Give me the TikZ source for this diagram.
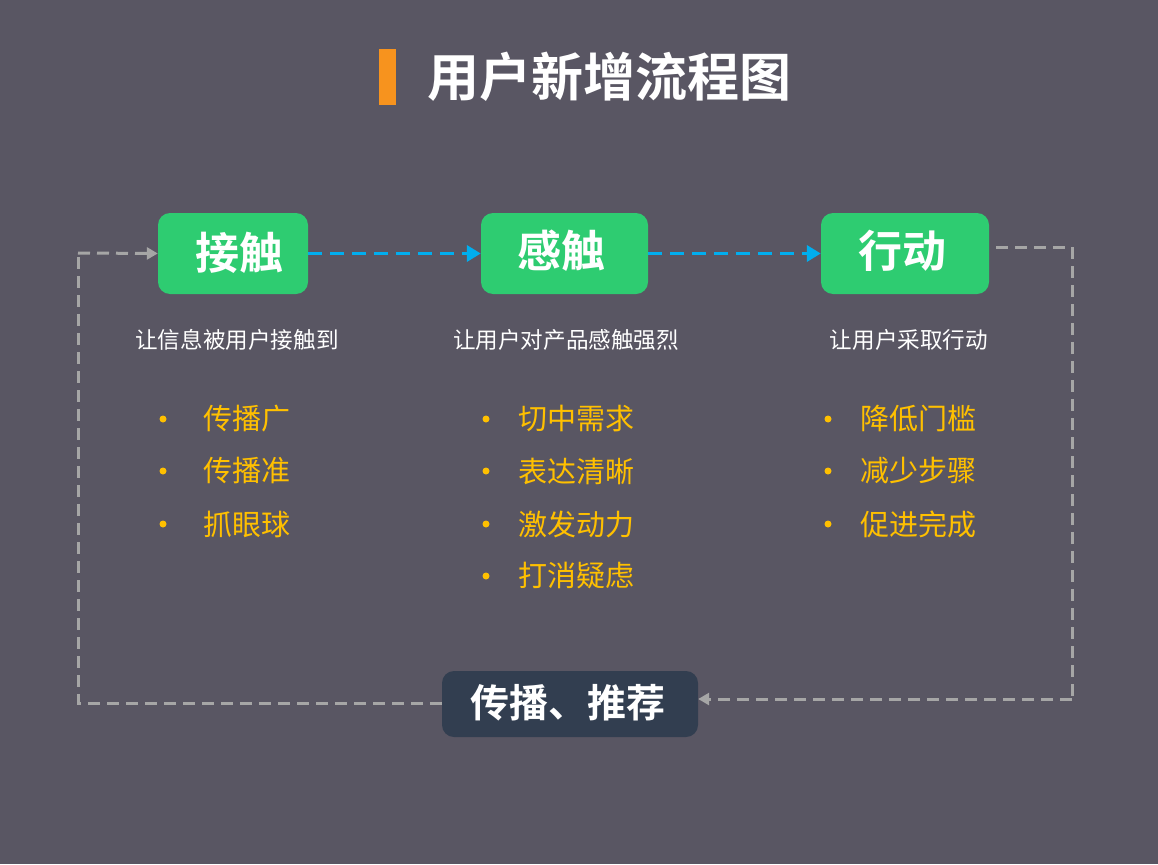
\documentclass[tikz,border=0pt]{standalone}
\usepackage{fontspec}
\newfontfamily\cjk{Noto Sans CJK SC}
\newfontfamily\cjkb{Noto Sans CJK SC Bold}
\usetikzlibrary{arrows.meta}
\definecolor{bg}{HTML}{595663}
\definecolor{grn}{HTML}{2ECC71}
\definecolor{blu}{HTML}{00AEEF}
\definecolor{gry}{HTML}{A6A6A6}
\definecolor{drk}{HTML}{323E50}
\definecolor{org}{HTML}{F7931E}
\definecolor{ylw}{HTML}{FFC000}
\tikzset{
  stagebox/.style={fill=grn, rounded corners=12pt, minimum height=81pt, inner sep=0pt},
  stagetext/.style={text=white, font=\cjkb\fontsize{44}{48}\selectfont, inner sep=0pt},
  sharebox/.style={fill=drk, rounded corners=12pt, minimum width=256pt, minimum height=66pt, inner sep=0pt},
  sharetext/.style={text=white, font=\cjkb\fontsize{39}{42}\selectfont, inner sep=0pt},
  subtitle/.style={text=white, font=\cjk\fontsize{22.6}{26}\selectfont},
  item/.style={text=ylw, anchor=west, font=\cjk\fontsize{29}{33}\selectfont, inner sep=0pt},
  dot/.style={circle, fill=ylw, inner sep=0pt, minimum size=7pt},
  bluearrow/.style={draw=blu, line width=3.5pt, dash pattern=on 14pt off 8pt, -{Triangle[length=14pt,width=16pt]}},
  grayarrow/.style={draw=gry, line width=3pt, dash pattern=on 12pt off 7pt, -{Triangle[length=11pt,width=12pt]}},
  grayline/.style={draw=gry, line width=3pt, dash pattern=on 12pt off 7pt}
}
\begin{document}
\begin{tikzpicture}[x=1pt,y=-1pt]
\fill[bg] (0,0) rectangle (1158,864);
\useasboundingbox (0,0) rectangle (1158,864);
% title
\fill[org] (379,49) rectangle (396,105);
\node[text=white, font=\cjkb\fontsize{52}{56}\selectfont, anchor=west, inner sep=0pt] (title) at (427,77) {用户新增流程图};
% stage boxes
\node[stagebox, minimum width=150pt] (s1) at (233,253.5) {};
\node[stagebox, minimum width=167pt] (s2) at (564.5,253.5) {};
\node[stagebox, minimum width=168pt] (s3) at (905,253.5) {};
\node[stagetext] (l1) at (239,253) {接触};
\node[stagetext] (l2) at (561,251) {感触};
\node[stagetext] (l3) at (902,251) {行动};
\node[sharebox] (sh) at (570,704) {};
\node[sharetext] (shl) at (568,703) {传播、推荐};
% arrows
\draw[bluearrow] (s1.east) -- (s2.west);
\draw[bluearrow] (s2.east) -- (s3.west);
\coordinate (a0) at (996,247);
\coordinate (a1) at (1072,247);
\coordinate (a2) at (1072,699);
\coordinate (a3) at (sh.east |- a2);
\draw[grayline] (a0) -- (a1) -- (a2);
\draw[grayarrow] (a2) -- (a3);
\coordinate (b0) at (sh.west |- 0,703);
\coordinate (b1) at (78,703);
\coordinate (b2) at (78,253);
\draw[grayline] (b0) -- (b1) -- (b2);
\draw[grayarrow] (b2) -- (s1.west);
% subtitles
\node[subtitle] (t1) at (237,340) {让信息被用户接触到};
\node[subtitle] (t2) at (566,340) {让用户对产品感触强烈};
\node[subtitle] (t3) at (909,340) {让用户采取行动};
% column 1
\node[dot] (d11) at (163,419) {}; \node[item] (i11) at (203,419) {传播广};
\node[dot] (d12) at (163,471) {}; \node[item] (i12) at (203,471) {传播准};
\node[dot] (d13) at (163,524) {}; \node[item] (i13) at (203,524) {抓眼球};
% column 2
\node[dot] (d21) at (486,419) {}; \node[item] (i21) at (518,419) {切中需求};
\node[dot] (d22) at (486,471) {}; \node[item] (i22) at (518,471) {表达清晰};
\node[dot] (d23) at (486,524) {}; \node[item] (i23) at (518,524) {激发动力};
\node[dot] (d24) at (486,576) {}; \node[item] (i24) at (518,576) {打消疑虑};
% column 3
\node[dot] (d31) at (828,419) {}; \node[item] (i31) at (860,419) {降低门槛};
\node[dot] (d32) at (828,471) {}; \node[item] (i32) at (860,471) {减少步骤};
\node[dot] (d33) at (828,524) {}; \node[item] (i33) at (860,524) {促进完成};
\end{tikzpicture}
\end{document}
